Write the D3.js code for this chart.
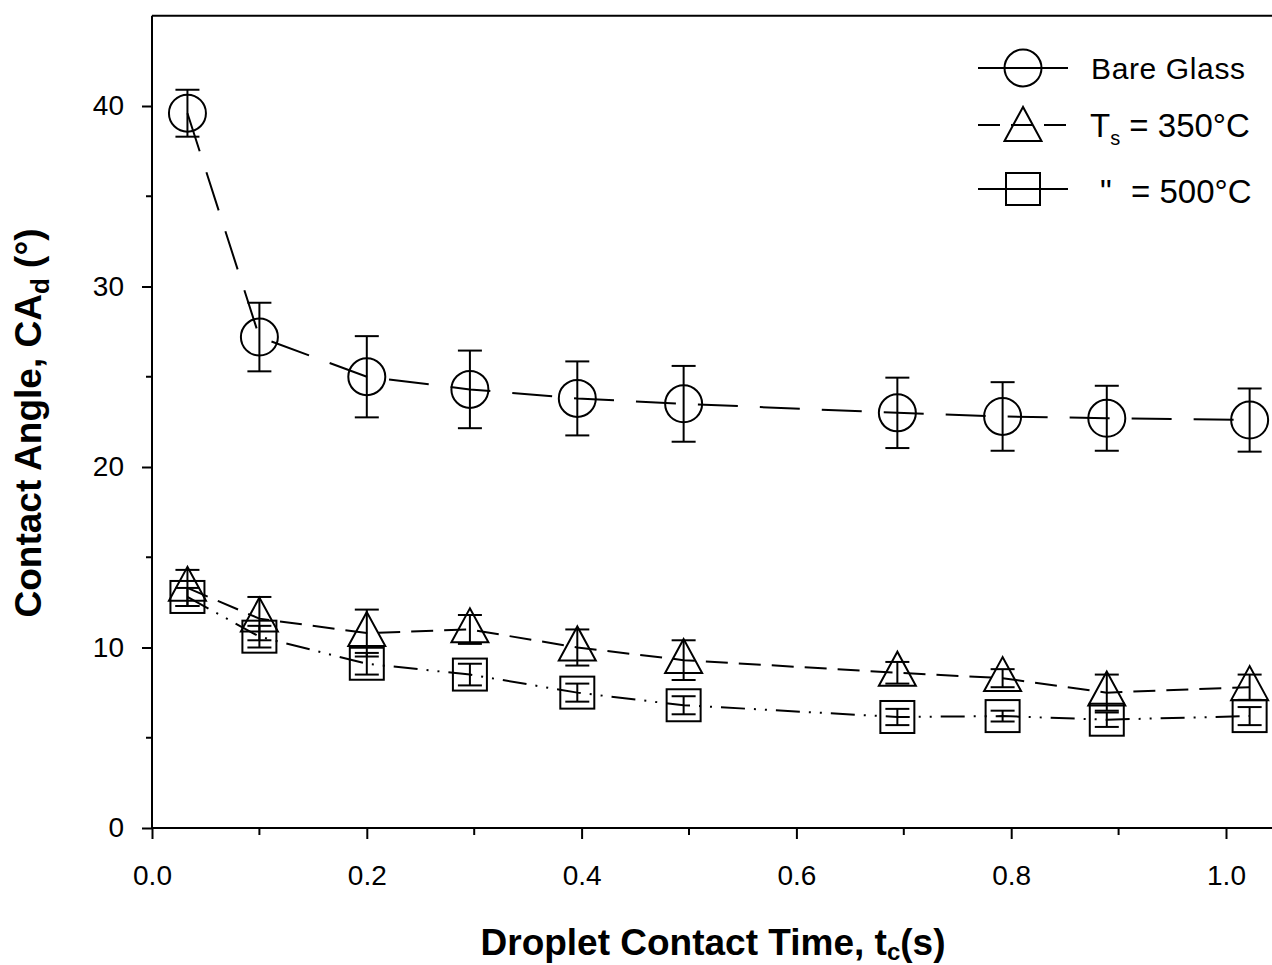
<!DOCTYPE html>
<html>
<head>
<meta charset="utf-8">
<script src="https://cdn.jsdelivr.net/npm/d3@7"></script>
<style>
  html, body { margin: 0; padding: 0; background: #fff; overflow: hidden; }
  svg { display: block; font-family: "Liberation Sans", Arial, sans-serif; }
</style>
</head>
<body>
<svg id="chart" width="1272" height="965"></svg>
<script>
// Droplet contact time (s)
const contactTime = [0.033, 0.1, 0.2, 0.296, 0.396, 0.495, 0.694, 0.792, 0.889, 1.022];

// Dynamic contact angle (deg) and error (+/-)
const bareGlass    = [39.6, 27.2, 25.0, 24.3, 23.8, 23.5, 23.0, 22.8, 22.7, 22.6];
const bareGlassErr = [1.3, 1.9, 2.25, 2.15, 2.05, 2.1, 1.95, 1.9, 1.8, 1.75];

const ts350    = [13.3, 11.6, 10.8, 11.0, 10.0, 9.3, 8.6, 8.3, 7.5, 7.8];
const ts350Err = [1.0, 1.2, 1.3, 0.8, 1.0, 1.1, 0.6, 0.5, 1.0, 0.7];

const ts500    = [12.8, 10.6, 9.1, 8.5, 7.5, 6.8, 6.15, 6.2, 6.0, 6.2];
const ts500Err = [0.5, 0.6, 0.6, 0.6, 0.5, 0.5, 0.45, 0.3, 0.4, 0.5];

const xTicks = [0.0, 0.2, 0.4, 0.6, 0.8, 1.0];
const xMinorTicks = [0.1, 0.3, 0.5, 0.7, 0.9];
const yTicks = [0, 10, 20, 30, 40];
const yMinorTicks = [5, 15, 25, 35];

const seriesNames = ["Bare Glass", "T_s = 350°C", "\" = 500°C"];

const svg = d3.select("#chart");

const x = d3.scaleLinear().domain([0, 1.1]).range([152, 152 + 1.1 * 1074]);
const y = d3.scaleLinear().domain([0, 45]).range([828, 828 - 45 * 18.05]);

const ink = "#000";

// Frame: top border
svg.append("line")
  .attr("x1", x(0)).attr("x2", x(1.1))
  .attr("y1", y(45)).attr("y2", y(45))
  .attr("stroke", ink).attr("stroke-width", 2);

// Axes
const xAxis = d3.axisBottom(x).tickValues(xTicks).tickFormat(d3.format(".1f")).tickSize(11).tickPadding(26);
const yAxis = d3.axisLeft(y).tickValues(yTicks).tickFormat(d3.format("d")).tickSize(10).tickPadding(18);

const gx = svg.append("g").attr("transform", `translate(0,${y(0)})`).call(xAxis);
const gy = svg.append("g").attr("transform", `translate(${x(0)},0)`).call(yAxis);

[gx, gy].forEach(g => {
  g.select(".domain").remove();
  g.selectAll(".tick line").attr("stroke", ink).attr("stroke-width", 2);
  g.selectAll(".tick text").attr("fill", ink).attr("font-size", 28).attr("font-family", "Liberation Sans, Arial, sans-serif");
});

// minor ticks
svg.append("g").selectAll("line").data(xMinorTicks).join("line")
  .attr("x1", d => x(d)).attr("x2", d => x(d))
  .attr("y1", y(0)).attr("y2", y(0) + 7)
  .attr("stroke", ink).attr("stroke-width", 2);
svg.append("g").selectAll("line").data(yMinorTicks).join("line")
  .attr("x1", x(0)).attr("x2", x(0) - 6)
  .attr("y1", d => y(d)).attr("y2", d => y(d))
  .attr("stroke", ink).attr("stroke-width", 2);

// axis lines
svg.append("line").attr("x1", x(0)).attr("x2", x(1.1)).attr("y1", y(0)).attr("y2", y(0))
  .attr("stroke", ink).attr("stroke-width", 2);
svg.append("line").attr("x1", x(0)).attr("x2", x(0)).attr("y1", y(0) + 1).attr("y2", y(45))
  .attr("stroke", ink).attr("stroke-width", 2);

// Axis titles
const xTitle = svg.append("text")
  .attr("x", 713).attr("y", 955)
  .attr("text-anchor", "middle")
  .attr("font-size", 37).attr("font-weight", "bold").attr("fill", ink);
xTitle.append("tspan").text("Droplet Contact Time, t");
xTitle.append("tspan").attr("font-size", 24).attr("dy", 5).text("c");
xTitle.append("tspan").attr("dy", -5).text("(s)");

const yTitle = svg.append("text")
  .attr("transform", "translate(41,423) rotate(-90)")
  .attr("text-anchor", "middle")
  .attr("font-size", 37).attr("font-weight", "bold").attr("fill", ink);
yTitle.append("tspan").text("Contact Angle, CA");
yTitle.append("tspan").attr("font-size", 26).attr("dy", 8).text("d");
yTitle.append("tspan").attr("dy", -8).text(" (°)");

// Series definitions
const series = [
  { vals: bareGlass, errs: bareGlassErr, marker: "circle",   dash: "40,22" },
  { vals: ts350,     errs: ts350Err,     marker: "triangle", dash: "22,11" },
  { vals: ts500,     errs: ts500Err,     marker: "square",   dash: "24,9,2,9,2,9" }
];

const line = d3.line().x(d => x(d[0])).y(d => y(d[1])).curve(d3.curveLinear);

function drawMarker(g, type, cx, cy) {
  if (type === "circle") {
    g.append("circle").attr("cx", cx).attr("cy", cy).attr("r", 18.5)
      .attr("fill", "none").attr("stroke", ink).attr("stroke-width", 2);
  } else if (type === "triangle") {
    const h = 34, w = 37;
    const pts = [[cx, cy - h * 0.62], [cx - w / 2, cy + h * 0.38], [cx + w / 2, cy + h * 0.38]];
    g.append("polygon").attr("points", pts.map(p => p.join(",")).join(" "))
      .attr("fill", "none").attr("stroke", ink).attr("stroke-width", 2);
  } else {
    g.append("rect").attr("x", cx - 17).attr("y", cy - 16).attr("width", 34).attr("height", 32)
      .attr("fill", "none").attr("stroke", ink).attr("stroke-width", 2);
  }
}

// Connecting lines
series.forEach(s => {
  const pts = contactTime.map((t, i) => [t, s.vals[i]]);
  svg.append("path").datum(pts)
    .attr("d", line)
    .attr("fill", "none").attr("stroke", ink).attr("stroke-width", 2)
    .attr("stroke-dasharray", s.dash);
});

// Markers and error bars
series.forEach(s => {
  const g = svg.append("g");
  contactTime.forEach((t, i) => {
    const cx = x(t), cy = y(s.vals[i]);
    drawMarker(g, s.marker, cx, cy);
    const top = y(s.vals[i] + s.errs[i]), bot = y(s.vals[i] - s.errs[i]);
    g.append("line").attr("x1", cx).attr("x2", cx).attr("y1", top).attr("y2", bot)
      .attr("stroke", ink).attr("stroke-width", 2);
    [top, bot].forEach(yy => g.append("line")
      .attr("x1", cx - 12).attr("x2", cx + 12).attr("y1", yy).attr("y2", yy)
      .attr("stroke", ink).attr("stroke-width", 2));
  });
});

// Legend
const legendRows = [68, 125, 189];
const lg = svg.append("g");
series.forEach((s, i) => {
  const ly = legendRows[i];
  lg.append("line").attr("x1", 978).attr("x2", 1068).attr("y1", ly).attr("y2", ly)
    .attr("stroke", ink).attr("stroke-width", 2)
    .attr("stroke-dasharray", i === 1 ? "22,11" : null);
  drawMarker(lg, s.marker, 1023, ly + (s.marker === "triangle" ? 3 : 0));
});

// legend labels
lg.append("text").attr("x", 1091).attr("y", 79)
  .attr("font-size", 30).attr("fill", ink)
  .attr("textLength", 154).attr("lengthAdjust", "spacing")
  .text(seriesNames[0]);

const t2 = lg.append("text").attr("x", 1090).attr("y", 137)
  .attr("font-size", 33).attr("fill", ink);
t2.append("tspan").text("T");
t2.append("tspan").attr("font-size", 20).attr("dy", 8).text("s");
t2.append("tspan").attr("dy", -8).text(" = 350°C");

const t3 = lg.append("text").attr("x", 1100).attr("y", 203)
  .attr("font-size", 33).attr("fill", ink);
t3.append("tspan").text("\"");
t3.append("tspan").attr("x", 1131).text("= 500°C");
</script>
</body>
</html>
